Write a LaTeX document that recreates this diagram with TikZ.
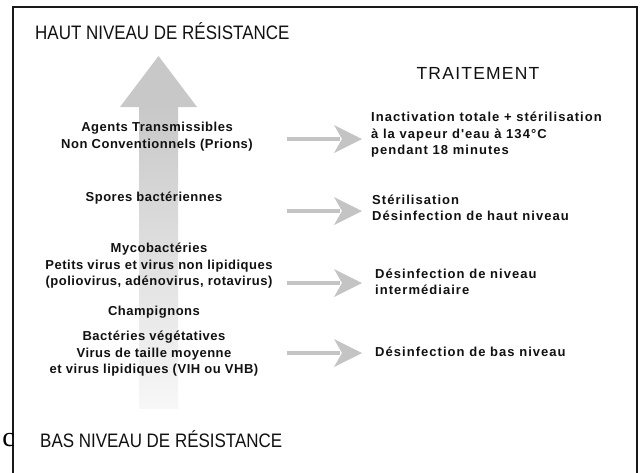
\documentclass[tikz,border=0pt]{standalone}
\usepackage{fontspec}
\setmainfont{Liberation Sans}
\newfontfamily\bodyfont{Liberation Sans}[LetterSpace=4]
\newfontfamily\rbodyfont{Liberation Sans}[LetterSpace=8]
\newfontfamily\titlefont{Liberation Sans}[FakeStretch=0.87]
\newfontfamily\trfont{Liberation Sans}[LetterSpace=7]
\newfontfamily\serfont{Liberation Serif}
\usetikzlibrary{calc}
\definecolor{arrgray}{HTML}{C4C4C4}
\definecolor{biggray}{HTML}{C8C8C8}
\definecolor{txt}{HTML}{111111}
\tikzset{
  lefttxt/.style={font=\bodyfont\bfseries\fontsize{13}{16.5}\selectfont, text=txt, inner sep=0pt, align=center},
  righttxt/.style={font=\rbodyfont\bfseries\fontsize{13}{16.5}\selectfont, text=txt, inner sep=0pt, align=left, anchor=west},
  bigtitle/.style={font=\titlefont\fontsize{19.5}{22}\selectfont, text=txt, inner sep=0pt, anchor=west},
  smallarrow/.style={draw=arrgray, line width=4pt},
}
\newcommand{\headat}[1]{\fill[arrgray] ($(#1)+(-28,-14)$) -- (#1) -- ($(#1)+(-28,14)$) -- ($(#1)+(-20,0)$) -- cycle;}
\begin{document}
\begin{tikzpicture}[x=1pt,y=-1pt]
\useasboundingbox (0,0) rectangle (642,472);
\fill[white] (0,0) rectangle (642,472);
% frame
\draw[line width=2pt, black!90] (13,7) rectangle (637,495);
% stray character
\node[font=\serfont\fontsize{28}{28}\selectfont, anchor=base east, inner sep=0pt] (stray) at (15,446) {c};
% big arrow
\shade[top color=biggray, bottom color=white!97!black] (139,106) rectangle (178,408);
\fill[biggray] (120,107) -- (158.5,56) -- (197,107) -- cycle;
% titles
\node[bigtitle] (haut) at (35,31) {HAUT NIVEAU DE RÉSISTANCE};
\node[bigtitle] (bas) at (40,439) {BAS NIVEAU DE RÉSISTANCE};
\node[font=\trfont\fontsize{17.5}{18}\selectfont, text=txt, inner sep=0pt] (trait) at (478,73) {TRAITEMENT};
% left column
\node[lefttxt] (atnc) at (157,136.5) {Agents Transmissibles\\Non Conventionnels (Prions)};
\node[lefttxt] (spores) at (154,198.5) {Spores bactériennes};
\node[lefttxt] (myco) at (159,266) {Mycobactéries\\Petits virus et virus non lipidiques\\(poliovirus, adénovirus, rotavirus)};
\node[lefttxt] (champ) at (154,312) {Champignons};
\node[lefttxt] (bact) at (154,354) {Bactéries végétatives\\Virus de taille moyenne\\et virus lipidiques (VIH ou VHB)};
% right column
\node[righttxt] (t1) at (371,135) {Inactivation totale + stérilisation\\à la vapeur d'eau à 134°C\\pendant 18 minutes};
\node[righttxt] (t2) at (372,208) {Stérilisation\\Désinfection de haut niveau};
\node[righttxt] (t3) at (375,282) {Désinfection de niveau\\intermédiaire};
\node[righttxt] (t4) at (375,352) {Désinfection de bas niveau};
% small arrows
\foreach \i/\y in {1/139,2/211,3/283,4/353}{
  \coordinate (s\i) at (287,\y);
  \coordinate (e\i) at (362,\y);
  \draw[smallarrow] (s\i) -- ($(e\i)+(-22,0)$);
  \headat{e\i}
}
\end{tikzpicture}
\end{document}
